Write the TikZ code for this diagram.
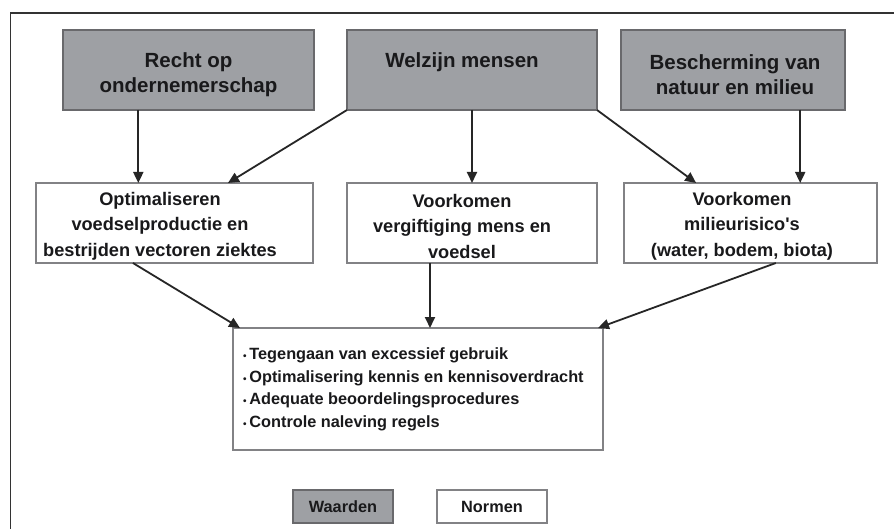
\documentclass[tikz,border=0pt]{standalone}
\usepackage{fontspec}
\setmainfont{Liberation Sans}
\usetikzlibrary{arrows.meta,calc}
\definecolor{waardefill}{RGB}{158,160,164}
\definecolor{waardeline}{RGB}{105,105,108}
\definecolor{normline}{RGB}{130,130,133}
\definecolor{txt}{RGB}{25,25,27}
\begin{document}
\begin{tikzpicture}[x=1pt,y=-1pt,
  waarde/.style={draw=waardeline,fill=waardefill,line width=1.2pt,inner sep=0pt,outer sep=0pt,minimum height=80pt},
  norm/.style={draw=normline,fill=white,line width=1.2pt,inner sep=0pt,outer sep=0pt,minimum height=80pt},
  toptxt/.style={text=txt,font=\bfseries\fontsize{20.5}{25}\selectfont,align=center,inner sep=0pt},
  midtxt/.style={text=txt,font=\bfseries\fontsize{18.2}{25.5}\selectfont,align=center,inner sep=0pt},
  lowtxt/.style={text=txt,font=\bfseries\fontsize{16.3}{22.5}\selectfont,align=left,inner sep=0pt},
  conn/.style={draw=black!85,line width=1.8pt,-{Triangle[length=11pt,width=10pt]}}]
\useasboundingbox (0,0) rectangle (894,529);
\fill[white] (0,0) rectangle (894,529);
% frame
\draw[line width=1.3pt,black!80] (10.5,529) -- (10.5,13) -- (894,13);
% waarden
\node[waarde,minimum width=251pt] (R) at (188.5,70) {};
\node[waarde,minimum width=250pt] (W) at (472,70) {};
\node[waarde,minimum width=224pt] (B) at (733,70) {};
\node[toptxt] (Rt) at (188.5,74.5) {Recht op\\ondernemerschap};
\node[toptxt,anchor=center] (Wt) at (462,62) {Welzijn mensen};
\node[toptxt] (Bt) at (735,74.5) {Bescherming van\\natuur en milieu};
% normen
\node[norm,minimum width=277pt] (N1) at (174.5,223) {};
\node[norm,minimum width=250pt] (N2) at (472,223) {};
\node[norm,minimum width=253pt] (N3) at (750.5,223) {};
\node[midtxt] (N1t) at (160,226) {Optimaliseren\\voedselproductie en\\bestrijden vectoren ziektes};
\node[midtxt] (N2t) at (462,226) {Voorkomen\\vergiftiging mens en\\voedsel};
\node[midtxt] (N3t) at (742,226) {Voorkomen\\milieurisico\textquotesingle s\\(water, bodem, biota)};
% maatregelen
\node[norm,minimum width=370pt,minimum height=122pt] (M) at (418,389) {};
\node[lowtxt,anchor=west] (Mt) at (243,389.5) {{\fontsize{10}{10}\selectfont •}\,Tegengaan van excessief gebruik\\{\fontsize{10}{10}\selectfont •}\,Optimalisering kennis en kennisoverdracht\\{\fontsize{10}{10}\selectfont •}\,Adequate beoordelingsprocedures\\{\fontsize{10}{10}\selectfont •}\,Controle naleving regels};
% legend
\node[waarde,minimum width=100pt,minimum height=33pt,text=txt,font=\bfseries\fontsize{16.3}{19}\selectfont] (LW) at (343,506.5) {Waarden};
\node[norm,minimum width=110pt,minimum height=33pt,text=txt,font=\bfseries\fontsize{16.3}{19}\selectfont] (LN) at (492,506.5) {Normen};
% connectors
\coordinate (r1) at ($(R.south west)!0.3!(R.south east)$);
\draw[conn] (r1) -- (r1 |- N1.north);
\draw[conn] (W.south west) -- ($(N1.north west)!0.693!(N1.north east)$);
\draw[conn] (W.south) -- (N2.north);
\draw[conn] (W.south east) -- ($(N3.north west)!0.285!(N3.north east)$);
\coordinate (b1) at ($(B.south west)!0.8!(B.south east)$);
\draw[conn] (b1) -- (b1 |- N3.north);
\draw[conn] ($(N1.south west)!0.35!(N1.south east)$) -- ($(M.north west)+(7,0)$);
\coordinate (n2) at ($(N2.south west)!0.332!(N2.south east)$);
\draw[conn] (n2) -- (n2 |- M.north);
\draw[conn] ($(N3.south west)!0.6!(N3.south east)$) -- ($(M.north east)+(-5,0)$);
\end{tikzpicture}
\end{document}
